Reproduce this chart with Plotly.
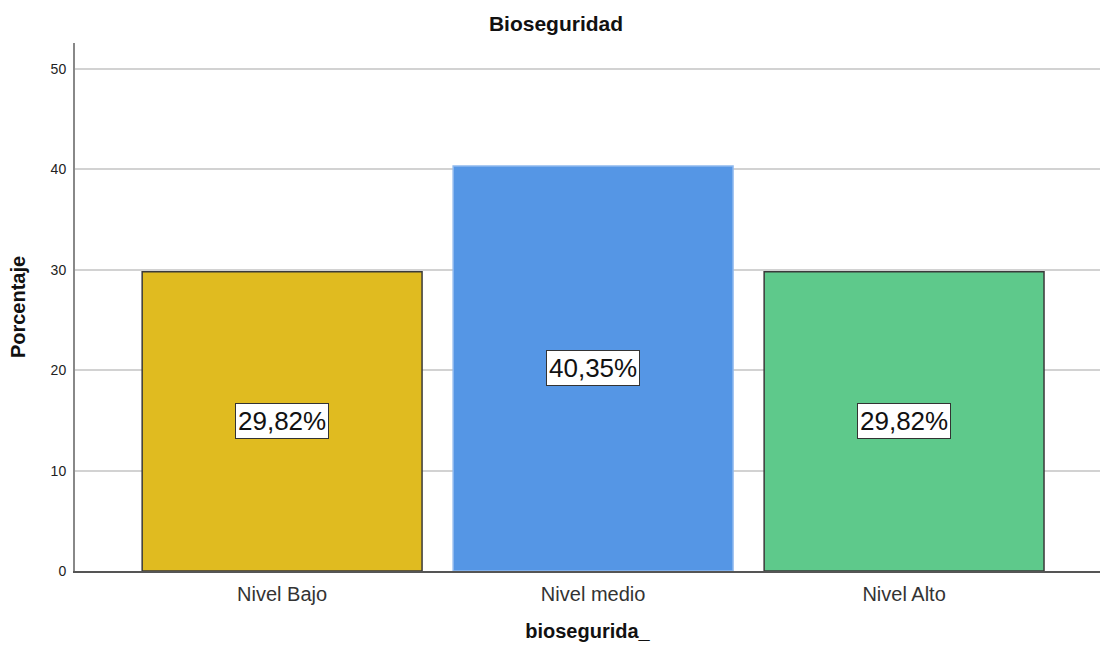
import plotly.graph_objects as go

categories = ["Nivel Bajo", "Nivel medio", "Nivel Alto"]
values = [29.82, 40.35, 29.82]
bar_colors = ["#e0bb20", "#5596e5", "#5ec98b"]
border_colors = ["#3a3a3a", "#8fb9ee", "#3a3a3a"]
y_ticks = [0, 10, 20, 30, 40, 50]

FONT = "Liberation Sans, Arial, sans-serif"

fig = go.Figure()
fig.add_trace(go.Bar(
    x=list(range(len(categories))), y=values, width=0.9,
    marker=dict(color=bar_colors, line=dict(color=border_colors, width=1.5)),
    hoverinfo="skip",
))

for i, v in enumerate(values):
    fig.add_annotation(
        x=i, y=v / 2, xref="x", yref="y",
        text=f"{v:.2f}%".replace(".", ","), showarrow=False,
        font=dict(family=FONT, size=26, color="#111"),
        bgcolor="white", bordercolor="#333", borderwidth=1, borderpad=2,
    )

fig.update_layout(
    width=1101, height=648,
    margin=dict(l=75, r=1, t=43, b=77),
    plot_bgcolor="white", paper_bgcolor="white",
    showlegend=False,
    font=dict(family=FONT),
    title=dict(text="<b>Bioseguridad</b>", x=556 / 1101, xref="container", xanchor="center",
               y=1 - 24 / 648, yref="container", yanchor="middle",
               font=dict(family=FONT, size=21, color="#111")),
)
fig.update_xaxes(
    range=[-0.666, 2.63], tickmode="array", tickvals=list(range(len(categories))),
    ticktext=categories, showgrid=False, zeroline=False,
    showline=True, linecolor="#555", linewidth=1.5, ticks="",
    ticklabelstandoff=4,
    tickfont=dict(family=FONT, size=20, color="#333"),
    title=dict(text="<b>biosegurida_</b>", font=dict(family=FONT, size=20, color="#111"), standoff=20),
)
fig.update_yaxes(
    range=[0, 52.6], tickvals=y_ticks, showgrid=True, gridcolor="#d2d2d2", gridwidth=2,
    zeroline=False, showline=True, linecolor="#888", linewidth=2, ticks="",
    ticklabelstandoff=4,
    tickfont=dict(family=FONT, size=14, color="#222"),
    title=dict(text="<b>Porcentaje</b>", font=dict(family=FONT, size=20, color="#111"), standoff=20),
)

fig.write_html("out.html")
